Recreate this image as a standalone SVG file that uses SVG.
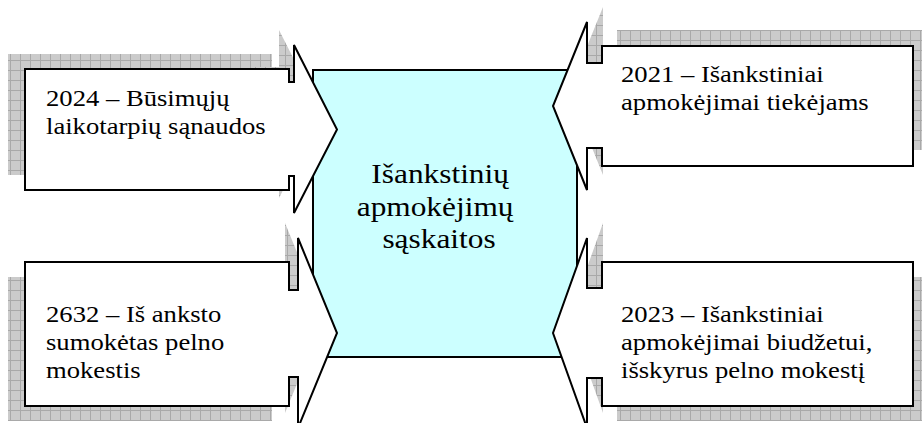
<svg xmlns="http://www.w3.org/2000/svg" width="922" height="423" viewBox="0 0 922 423">
  <defs>
    <!-- grey grid fill used for the drop shadows -->
    <pattern id="grid" patternUnits="userSpaceOnUse" width="10" height="10">
      <rect width="10" height="10" fill="#cbcbcb"/>
      <path d="M0,0.5 H10 M0.5,0 V10" stroke="#a9a9a9" stroke-width="1" fill="none"/>
    </pattern>
  </defs>
  <style>
    .shadow { fill: url(#grid); stroke: none; }
    .callout { fill: #ffffff; stroke: #000000; stroke-width: 2; stroke-linejoin: miter; }
    .hub { fill: #ccffff; stroke: #000000; stroke-width: 2; }
    text { font-family: 'Liberation Serif', 'Times New Roman', Times, serif; fill: #000000; }
    .lbl { font-size: 24px; }
    .hubtxt { font-size: 28px; text-anchor: middle; }
  </style>

  <!-- central account group -->
  <g id="hub">
    <rect class="hub" x="313" y="70" width="264" height="287"/>
    <g transform="translate(439,0) scale(1.12,1)">
      <text class="hubtxt" font-family="Liberation Serif, serif">
        <tspan x="4.5" y="183.5">Išankstinių</tspan>
        <tspan x="0" y="216">apmokėjimų</tspan>
        <tspan x="0" y="248.5">sąskaitos</tspan>
      </text>
    </g>
  </g>

  <!-- callouts pointing at the central group -->
  <g id="connectors">
    <g id="acc-2024">
      <rect class="shadow" x="8" y="54" width="264" height="121"/>
      <path class="shadow" transform="translate(-15,-15)" d="M270,82 H294 V45 L337,129.5 L294,213 V176 H270 Z"/>
      <path class="callout" d="M25,69 H289 V82 H294 V45 L337,129.5 L294,213 V176 H289 V190 H25 Z"/>
      <g transform="translate(46,0) scale(1.11,1)">
        <text class="lbl" font-family="Liberation Serif, serif">
          <tspan x="0" y="105.7">2024 – Būsimųjų</tspan>
          <tspan x="0" y="134.3">laikotarpių sąnaudos</tspan>
        </text>
      </g>
    </g>

    <g id="acc-2632">
      <rect class="shadow" x="8" y="277" width="264" height="144"/>
      <path class="shadow" transform="translate(-13,-15)" d="M270,290 H298 V238 L337,333 L298,428 V377 H270 Z"/>
      <path class="callout" d="M25,262 H289 V290 H298 V238 L337,333 L298,428 V377 H289 V406 H25 Z"/>
      <g transform="translate(46,0) scale(1.11,1)">
        <text class="lbl" font-family="Liberation Serif, serif">
          <tspan x="0" y="321.7">2632 – Iš anksto</tspan>
          <tspan x="0" y="350">sumokėtas pelno</tspan>
          <tspan x="0" y="378.3">mokestis</tspan>
        </text>
      </g>
    </g>

    <g id="acc-2021">
      <rect class="shadow" x="617" y="30" width="311" height="120"/>
      <path class="shadow" transform="translate(16,-15)" d="M621,63 H587 V22 L553,106 L587,190 V148 H621 Z"/>
      <path class="callout" d="M602,46 H913 V166 H602 V148 H587 V190 L553,106 L587,22 V63 H602 Z"/>
      <g transform="translate(621,0) scale(1.11,1)">
        <text class="lbl" font-family="Liberation Serif, serif">
          <tspan x="0" y="81.7">2021 – Išankstiniai</tspan>
          <tspan x="0" y="110">apmokėjimai tiekėjams</tspan>
        </text>
      </g>
    </g>

    <g id="acc-2023">
      <rect class="shadow" x="617" y="277" width="311" height="144"/>
      <path class="shadow" transform="translate(16,-15)" d="M621,288 H587 V238 L553,333 L587,428 V378 H621 Z"/>
      <path class="callout" d="M602,262 H913 V406 H602 V378 H587 V428 L553,333 L587,238 V288 H602 Z"/>
      <g transform="translate(621,0) scale(1.11,1)">
        <text class="lbl" font-family="Liberation Serif, serif">
          <tspan x="0" y="321.7">2023 – Išankstiniai</tspan>
          <tspan x="0" y="350">apmokėjimai biudžetui,</tspan>
          <tspan x="0" y="378.3">išskyrus pelno mokestį</tspan>
        </text>
      </g>
    </g>
  </g>
</svg>
